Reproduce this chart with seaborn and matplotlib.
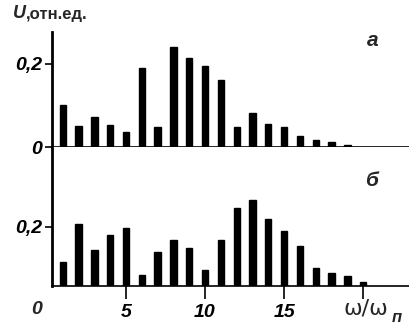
import matplotlib
matplotlib.use("Agg")
import matplotlib.pyplot as plt
import seaborn as sns
import numpy as np

# harmonic numbers and relative amplitudes, panel a and panel b
top_pos = list(range(1, 20))
top_vals = [0.100, 0.050, 0.072, 0.053, 0.035, 0.190, 0.049, 0.242, 0.214, 0.195,
            0.161, 0.047, 0.081, 0.055, 0.049, 0.027, 0.017, 0.013, 0.006]
bot_pos = list(range(1, 21))
bot_vals = [0.081, 0.210, 0.122, 0.173, 0.197, 0.037, 0.115, 0.156, 0.129, 0.054,
            0.156, 0.264, 0.292, 0.227, 0.186, 0.136, 0.061, 0.044, 0.034, 0.014]
x_ticks = [5, 10, 15, 20]
x_labels = ["5", "10", "15", ""]

sns.set_style("white")
plt.rcParams["font.family"] = ["Liberation Sans", "DejaVu Sans"]

fig = plt.figure(figsize=(4.09, 3.27), dpi=100)
ax_top = fig.add_axes([52 / 409, (327 - 147) / 327, 1 - 52 / 409, 115 / 327])
ax_bot = fig.add_axes([52 / 409, (327 - 286) / 327, 1 - 52 / 409, 139 / 327])

sns.barplot(x=top_pos, y=top_vals, native_scale=True, width=0.4,
            color="black", edgecolor="black", ax=ax_top)
sns.barplot(x=bot_pos, y=bot_vals, native_scale=True, width=0.4,
            color="black", edgecolor="black", ax=ax_bot)

lab = dict(fontstyle="italic", fontweight="bold", fontsize=14)

xmin, xmax = 0.32, 22.9
for ax in (ax_top, ax_bot):
    ax.set_xlim(xmin, xmax)
    ax.set_xlabel("")
    ax.set_ylabel("")
    for s in ("top", "right"):
        ax.spines[s].set_visible(False)
    ax.spines["left"].set_linewidth(2.0)
    ax.spines["bottom"].set_linewidth(1.2)
    ax.spines["left"].set_color("black")
    ax.spines["bottom"].set_color("black")
    ax.tick_params(axis="y", direction="out", length=5, width=1.2, pad=2,
                   left=True, colors="black")

ax_top.set_ylim(0, 0.277)
ax_top.set_yticks([0, 0.2])
ax_top.set_yticklabels(["0", "0,2"], **lab)
ax_top.set_xticks([])

ax_bot.set_ylim(0, 0.471)
ax_bot.set_yticks([0.2])
ax_bot.set_yticklabels(["0,2"], **lab)
ax_bot.set_xticks(x_ticks)
ax_bot.set_xticklabels(x_labels, **lab)
ax_bot.tick_params(axis="x", direction="out", length=9, width=1.2, pad=4,
                   bottom=True, colors="black")

# extra labels
fig.text(37 / 409, 1 - 310 / 327, "0", ha="center", va="center", **lab)
fig.text(13 / 409, 1 - 13 / 327, "U", ha="left", va="center", fontsize=13,
         fontstyle="italic", fontweight="bold")
fig.text(26 / 409, 1 - 14 / 327, ",отн.ед.", ha="left", va="center", fontsize=12,
         fontweight="bold")
fig.text(373 / 409, 1 - 40 / 327, "а", ha="center", va="center", fontsize=15,
         fontstyle="italic", fontweight="bold")
fig.text(371 / 409, 1 - 180 / 327, "б", ha="center", va="center", fontsize=15,
         fontstyle="italic", fontweight="bold")
fig.text(366 / 409, 1 - 309 / 327, "ω/ω", ha="center", va="center", fontsize=16,
         family=["DejaVu Sans"])
fig.text(397 / 409, 1 - 317 / 327, "п", ha="center", va="center", fontsize=12,
         fontstyle="italic", fontweight="bold")

fig.savefig("out.png", dpi=100)
